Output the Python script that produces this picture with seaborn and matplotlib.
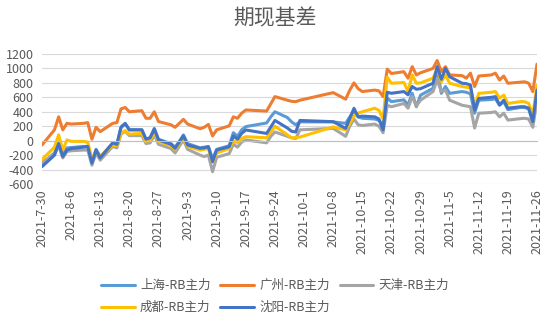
import numpy as np
import pandas as pd
import matplotlib
matplotlib.use("Agg")
import matplotlib.pyplot as plt
import matplotlib.dates as mdates
import seaborn as sns

# ---------------- data ----------------
dates = [
    "2021-07-30", "2021-08-02", "2021-08-03", "2021-08-04", "2021-08-05", "2021-08-06",
    "2021-08-09", "2021-08-10", "2021-08-11", "2021-08-12", "2021-08-13",
    "2021-08-16", "2021-08-17", "2021-08-18", "2021-08-19", "2021-08-20",
    "2021-08-23", "2021-08-24", "2021-08-25", "2021-08-26", "2021-08-27",
    "2021-08-30", "2021-08-31", "2021-09-01", "2021-09-02", "2021-09-03",
    "2021-09-06", "2021-09-07", "2021-09-08", "2021-09-09", "2021-09-10",
    "2021-09-13", "2021-09-14", "2021-09-15", "2021-09-16", "2021-09-17",
    "2021-09-22", "2021-09-23", "2021-09-24",
    "2021-09-27", "2021-09-28", "2021-09-29", "2021-09-30",
    "2021-10-08", "2021-10-11", "2021-10-12", "2021-10-13", "2021-10-14", "2021-10-15",
    "2021-10-18", "2021-10-19", "2021-10-20", "2021-10-21", "2021-10-22",
    "2021-10-25", "2021-10-26", "2021-10-27", "2021-10-28", "2021-10-29",
    "2021-11-01", "2021-11-02", "2021-11-03", "2021-11-04", "2021-11-05",
    "2021-11-08", "2021-11-09", "2021-11-10", "2021-11-11", "2021-11-12",
    "2021-11-15", "2021-11-16", "2021-11-17", "2021-11-18", "2021-11-19",
    "2021-11-22", "2021-11-23", "2021-11-24", "2021-11-25", "2021-11-26",
]

shanghai = [-320, -170, -40, -200, -100, -95, -80, -80, -290, -120, -220,
            -40, -60, 180, 230, 150, 150, 20, 40, 170, 20,
            -40, -90, -10, 80, -40, -100, -90, -80, -250, -120,
            -70, 110, 60, 150, 195, 245, 330, 400,
            320, 260, 220, 260, 260, 240, 330, 410, 330, 310,
            300, 280, 215, 590, 540, 565, 495, 655, 470, 630,
            725, 1000, 655, 750, 655, 680, 670, 650, 380, 560,
            570, 580, 490, 540, 430, 460, 460, 440, 260, 620]

guangzhou = [-60, 150, 330, 150, 240, 230, 240, 250, 20, 185, 125,
             240, 250, 440, 460, 400, 415, 310, 310, 400, 265,
             220, 185, 240, 295, 230, 165, 185, 225, 65, 150,
             205, 330, 310, 380, 425, 410, 510, 610,
             560, 545, 540, 560, 665, 575, 700, 800, 720, 680,
             700, 690, 610, 990, 930, 955, 865, 1025, 910, 940,
             1000, 1110, 955, 1025, 910, 900, 865, 935, 750, 895,
             910, 935, 840, 895, 795, 810, 815, 795, 680, 1060]

tianjin = [-300, -190, -70, -240, -150, -140, -130, -130, -340, -170, -270,
           -80, -100, 90, 130, 70, 70, -40, -30, 80, -50,
           -110, -170, -80, 10, -120, -200, -220, -200, -430, -230,
           -180, -50, -90, -20, 10, -30, 60, 120,
           60, 40, 30, 150, 170, 60, 200, 300, 220, 210,
           230, 200, 110, 490, 470, 515, 450, 610, 480, 560,
           680, 840, 680, 700, 560, 490, 480, 470, 175, 380,
           390, 400, 330, 380, 285, 305, 310, 300, 185, 560]

chengdu = [-260, -90, 80, -130, 10, -10, -10, -20, -260, -140, -220,
           -60, -70, 100, 140, 90, 100, -10, 10, 110, -10,
           -70, -120, -40, 30, -80, -130, -120, -110, -300, -170,
           -110, 0, -30, 30, 55, 40, 120, 200,
           80, 40, 40, 50, 190, 150, 240, 340, 380, 400,
           450, 420, 300, 880, 795, 805, 680, 910, 795, 800,
           865, 1000, 815, 910, 795, 750, 740, 730, 470, 655,
           670, 680, 590, 630, 515, 540, 540, 515, 355, 770]

shenyang = [-360, -200, -40, -220, -130, -110, -90, -80, -310, -130, -240,
            -30, -50, 190, 240, 150, 150, 20, 40, 160, 10,
            -50, -105, -20, 65, -60, -105, -100, -85, -290, -130,
            -85, 65, 20, 100, 148, 100, 190, 280,
            175, 130, 120, 280, 263, 170, 310, 448, 330, 340,
            330, 300, 150, 670, 656, 680, 635, 750, 712, 720,
            795, 1025, 850, 1000, 885, 795, 790, 770, 425, 585,
            600, 610, 495, 560, 450, 470, 470, 450, 265, 700]

series_names = ["上海-RB主力", "广州-RB主力", "天津-RB主力", "成都-RB主力", "沈阳-RB主力"]
series_values = [shanghai, guangzhou, tianjin, chengdu, shenyang]
colors = ["#5B9BD5", "#ED7D31", "#A5A5A5", "#FFC000", "#4472C4"]

y_ticks = [-600, -400, -200, 0, 200, 400, 600, 800, 1000, 1200]
title = "期现基差"

# ---------------- build frame ----------------
wide = pd.DataFrame({n: v for n, v in zip(series_names, series_values)})
wide["date"] = pd.to_datetime(dates)
long = wide.melt(id_vars="date", var_name="series", value_name="value")

# ---------------- style ----------------
sns.set_style("white")
plt.rcParams["font.family"] = ["Noto Sans CJK SC", "DejaVu Sans"]
plt.rcParams["axes.unicode_minus"] = False
text_color = "#595959"

fig = plt.figure(figsize=(5.5, 3.22), dpi=100)
ax = fig.add_axes([42 / 550, 1 - 184 / 322, (537 - 42) / 550, 130 / 322])

sns.lineplot(data=long, x="date", y="value", hue="series",
             hue_order=series_names, palette=dict(zip(series_names, colors)),
             linewidth=2.2, estimator=None, ax=ax)

# y axis
ax.set_ylim(-600, 1200)
ax.set_yticks(y_ticks)
ax.set_yticklabels([str(t) for t in y_ticks], fontsize=9, color=text_color)
ax.tick_params(axis="y", length=0, pad=6)
ax.yaxis.grid(True, color="#D9D9D9", linewidth=0.8)
ax.xaxis.grid(False)
ax.set_xlabel("")
ax.set_ylabel("")

# x axis (weekly ticks, axis line at zero)
start, end = pd.Timestamp("2021-07-30"), pd.Timestamp("2021-11-26")
tick_dates = pd.date_range(start, end, freq="7D")
tick_nums = mdates.date2num(tick_dates.to_pydatetime())
tick_labels = [f"{d.year}-{d.month}-{d.day}" for d in tick_dates]
ax.set_xlim(mdates.date2num(start.to_pydatetime()), mdates.date2num(end.to_pydatetime()))

for s in ["top", "right", "left"]:
    ax.spines[s].set_visible(False)
ax.spines["bottom"].set_position(("data", 0))
ax.spines["bottom"].set_color("#BFBFBF")
ax.spines["bottom"].set_linewidth(0.8)
ax.set_xticks(tick_nums)
ax.tick_params(axis="x", length=3.5, width=0.8, color="#BFBFBF",
               direction="out", labelbottom=False)

sec = ax.secondary_xaxis(0)
sec.set_xticks(tick_nums)
sec.set_xticklabels(tick_labels, rotation=90, fontsize=9, color=text_color)
sec.tick_params(length=0, pad=4)
sec.spines["bottom"].set_visible(False)

# title
fig.text(0.5, 1 - 18 / 322, title, ha="center", va="center",
         fontsize=15, color=text_color)

# legend (row-wise order as in Excel)
handles, labels = ax.get_legend_handles_labels()
if ax.get_legend() is not None:
    ax.get_legend().remove()
hmap = dict(zip(labels, handles))
order = [series_names[0], series_names[3], series_names[1], series_names[4], series_names[2]]
leg = fig.legend([hmap[k] for k in order], order, loc="upper center",
                 bbox_to_anchor=(0.5, 1 - 268 / 322), ncol=3, frameon=False,
                 fontsize=9, handlelength=2.7, columnspacing=0.8,
                 handletextpad=0.4, labelspacing=0.7)
for t in leg.get_texts():
    t.set_color(text_color)
for h in leg.legend_handles:
    h.set_linewidth(2.2)

fig.savefig("out.png", dpi=100)
